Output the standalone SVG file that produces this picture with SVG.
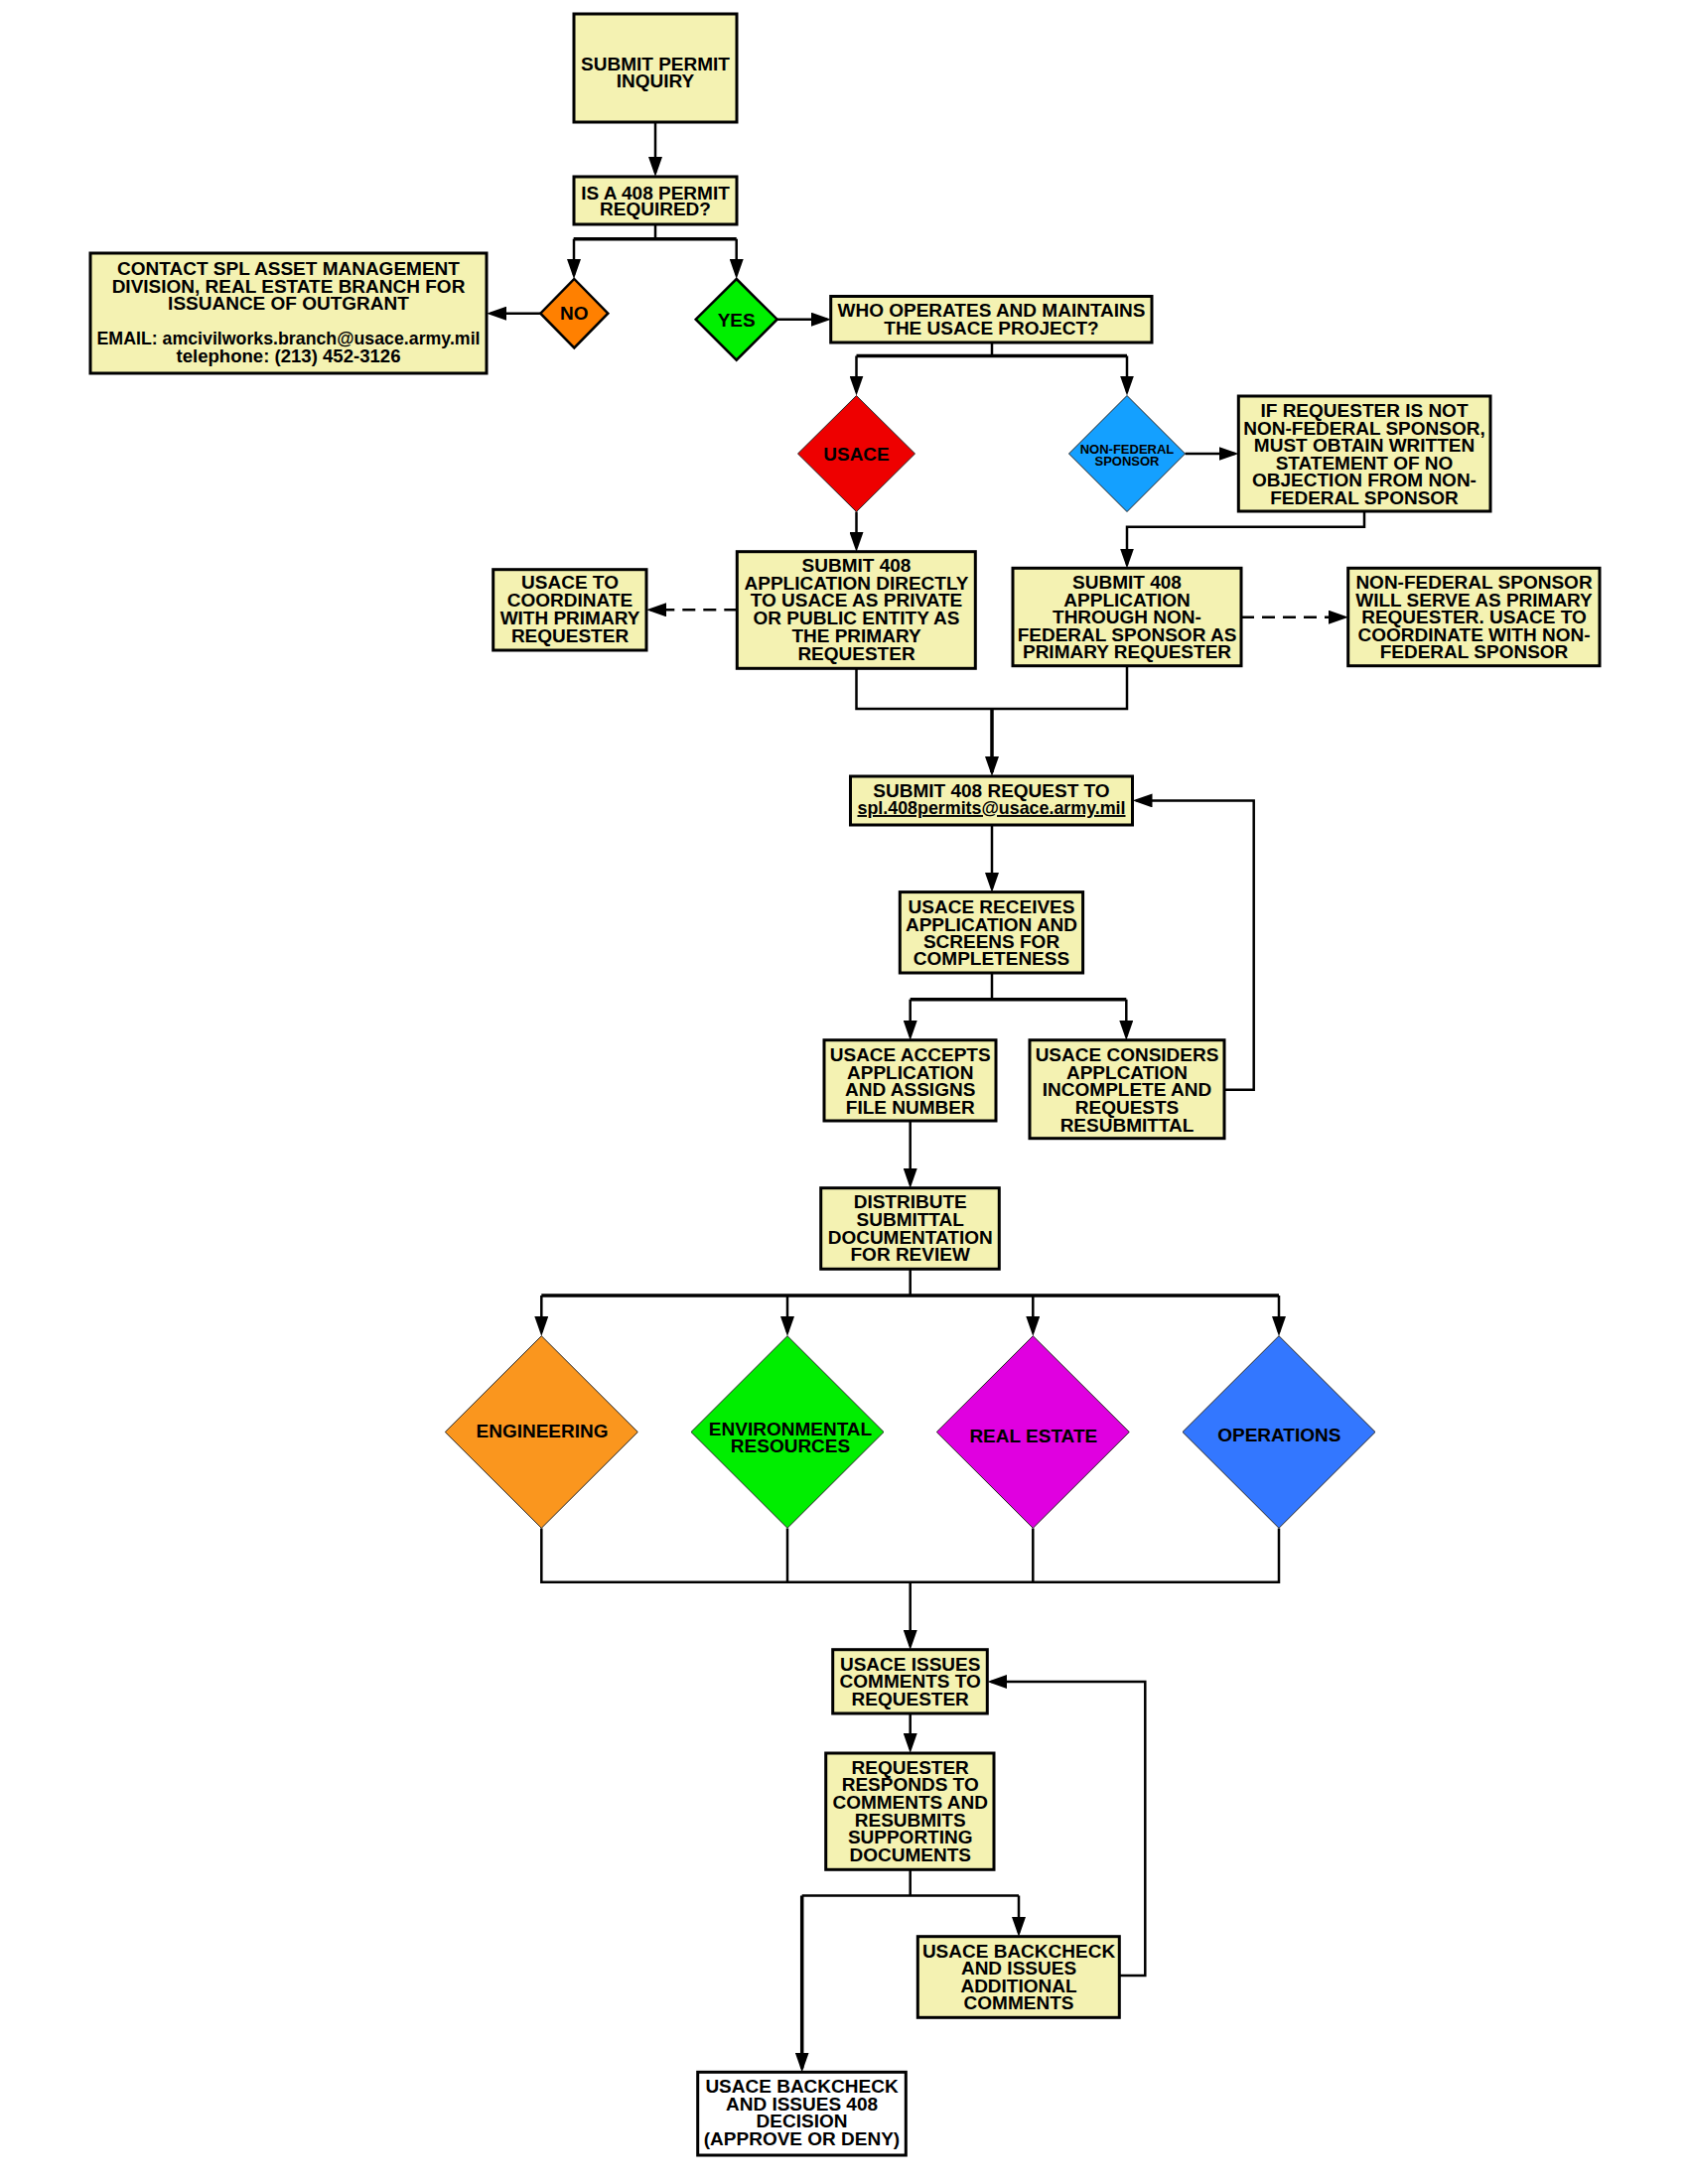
<svg xmlns="http://www.w3.org/2000/svg" width="1700" height="2200" viewBox="0 0 1700 2200">
<style>
.bg{fill:#ffffff}
.box{fill:#F4F2B2;stroke:#000;stroke-width:3}
.wbox{fill:#ffffff;stroke:#000;stroke-width:3}
.t{font-family:"Liberation Sans",Arial,Helvetica,sans-serif;font-weight:bold;font-size:19px;text-anchor:middle;fill:#000}
.ts{font-size:13px}
.c{fill:none;stroke:#000;stroke-width:2.5;marker-end:url(#ah)}
.l{fill:none;stroke:#000;stroke-width:2.5}
.k{stroke-width:3.5}
.d{stroke-dasharray:13 8}
.dm{stroke:#222;stroke-width:1}
.dk{stroke:#000;stroke-width:2.5}
</style>
<defs>
<marker id="ah" markerUnits="userSpaceOnUse" markerWidth="20" markerHeight="14" refX="16" refY="7" orient="auto">
<path d="M0,0 L20,7 L0,14 z" fill="#000"/>
</marker>
</defs>
<rect class="bg" x="0" y="0" width="1700" height="2200"/>

<g id="connectors">
<path class="c" d="M660,123 V174"/>
<path class="l" d="M660,226 V240.7"/>
<path class="l k" d="M577.7,240.7 H741.7"/>
<path class="c" d="M578,240.7 V277"/>
<path class="c" d="M741.7,240.7 V277"/>
<path class="c" d="M544.3,315.7 H494"/>
<path class="c" d="M782.7,321.7 H833"/>
<path class="l" d="M999,345 V358.5"/>
<path class="l k" d="M862.5,358.5 H1135"/>
<path class="c" d="M862.5,358.5 V394.5"/>
<path class="c" d="M1135,358.5 V394.5"/>
<path class="c" d="M1193.5,457 H1243.5"/>
<path class="c" d="M1374,515 V530.7 H1135 V568.5"/>
<path class="c" d="M862.5,515.5 V552"/>
<path class="c d" d="M742.3,614.3 H655"/>
<path class="c d" d="M1250,621.7 H1354"/>
<path class="l" d="M862.5,673.3 V714 H1135 V670.7"/>
<path class="c k" d="M999,714 V778"/>
<path class="c" d="M999,831 V895"/>
<path class="l" d="M999,980 V1006.7"/>
<path class="l k" d="M916.7,1006.7 H1134.3"/>
<path class="c" d="M916.7,1006.7 V1044"/>
<path class="c" d="M1134.3,1006.7 V1044"/>
<path class="c" d="M1233,1097.7 H1262.7 V806.4 H1144.5"/>
<path class="c" d="M916.7,1129 V1193"/>
<path class="l" d="M916.7,1278.3 V1305"/>
<path class="l k" d="M545.3,1305 H1288"/>
<path class="c" d="M545.3,1305 V1342"/>
<path class="c" d="M793,1305 V1342"/>
<path class="c" d="M1040.3,1305 V1342"/>
<path class="c" d="M1288,1305 V1342"/>
<path class="l" d="M545.3,1539.5 V1593.7 H1288 V1539.5"/>
<path class="l" d="M793,1539.5 V1593.7"/>
<path class="l" d="M1040.3,1539.5 V1593.7"/>
<path class="c" d="M916.7,1593.7 V1658"/>
<path class="c" d="M916.7,1726 V1762"/>
<path class="l" d="M916.7,1883.3 V1909.5"/>
<path class="l" d="M807.7,1909.5 H1026"/>
<path class="c" d="M1026,1909.5 V1947"/>
<path class="c k" d="M807.7,1909.5 V2083.5"/>
<path class="c" d="M1127.3,1990 H1153.3 V1694 H998.3"/>
</g>

<g id="submit-inquiry">
<rect class="box" x="578" y="14" width="164" height="109"/>
<text class="t"><tspan x="660" y="71">SUBMIT PERMIT</tspan><tspan x="660" y="88">INQUIRY</tspan></text>
</g>

<g id="permit-required">
<rect class="box" x="578" y="178" width="164" height="48"/>
<text class="t"><tspan x="660" y="200.7">IS A 408 PERMIT</tspan><tspan x="660" y="217.3">REQUIRED?</tspan></text>
</g>

<g id="no">
<polygon class="dk" fill="#FF8000" points="578.3,281 612.3,315.7 578.3,350.4 544.3,315.7"/>
<text class="t"><tspan x="578.3" y="322">NO</tspan></text>
</g>

<g id="yes">
<polygon class="dk" fill="#00F000" points="741.7,281 782.7,321.7 741.7,362.7 700.7,321.7"/>
<text class="t"><tspan x="741.7" y="329">YES</tspan></text>
</g>

<g id="contact">
<rect class="box" x="91" y="255" width="399" height="121"/>
<text class="t"><tspan x="290.5" y="277">CONTACT SPL ASSET MANAGEMENT</tspan><tspan x="290.5" y="294.5">DIVISION, REAL ESTATE BRANCH FOR</tspan><tspan x="290.5" y="312">ISSUANCE OF OUTGRANT</tspan></text>
<text class="t" x="290.5" y="347" textLength="386" lengthAdjust="spacingAndGlyphs">EMAIL: amcivilworks.branch@usace.army.mil</text>
<text class="t" x="290.5" y="365" textLength="226" lengthAdjust="spacingAndGlyphs">telephone: (213) 452-3126</text>
</g>

<g id="who-operates">
<rect class="box" x="836.7" y="298.5" width="323.3" height="46.5"/>
<text class="t"><tspan x="998.5" y="319.3">WHO OPERATES AND MAINTAINS</tspan><tspan x="998.5" y="336.7">THE USACE PROJECT?</tspan></text>
</g>

<g id="usace">
<polygon class="dm" fill="#EE0000" points="862.5,398.5 921.5,457 862.5,515.5 803.5,457"/>
<text class="t"><tspan x="862.5" y="464">USACE</tspan></text>
</g>

<g id="non-federal-sponsor">
<polygon class="dm" fill="#14A0FF" points="1135,398.5 1193.5,457 1135,515.5 1076.5,457"/>
<text class="t ts"><tspan x="1135" y="456.7">NON-FEDERAL</tspan><tspan x="1135" y="469.3">SPONSOR</tspan></text>
</g>

<g id="if-requester">
<rect class="box" x="1247.3" y="399" width="253.7" height="116"/>
<text class="t"><tspan x="1374" y="420">IF REQUESTER IS NOT</tspan><tspan x="1374" y="437.5">NON-FEDERAL SPONSOR,</tspan><tspan x="1374" y="455">MUST OBTAIN WRITTEN</tspan><tspan x="1374" y="472.5">STATEMENT OF NO</tspan><tspan x="1374" y="490">OBJECTION FROM NON-</tspan><tspan x="1374" y="507.8">FEDERAL SPONSOR</tspan></text>
</g>

<g id="submit-direct">
<rect class="box" x="742.3" y="555.7" width="240" height="117.6"/>
<text class="t"><tspan x="862.5" y="576">SUBMIT 408</tspan><tspan x="862.5" y="593.5">APPLICATION DIRECTLY</tspan><tspan x="862.5" y="611">TO USACE AS PRIVATE</tspan><tspan x="862.5" y="628.7">OR PUBLIC ENTITY AS</tspan><tspan x="862.5" y="646.5">THE PRIMARY</tspan><tspan x="862.5" y="664.5">REQUESTER</tspan></text>
</g>

<g id="usace-coordinate">
<rect class="box" x="496.7" y="573.7" width="154.3" height="81.3"/>
<text class="t"><tspan x="574" y="593.3">USACE TO</tspan><tspan x="574" y="611">COORDINATE</tspan><tspan x="574" y="629">WITH PRIMARY</tspan><tspan x="574" y="646.7">REQUESTER</tspan></text>
</g>

<g id="submit-nfs">
<rect class="box" x="1020" y="572.3" width="230" height="98.4"/>
<text class="t"><tspan x="1135" y="593.3">SUBMIT 408</tspan><tspan x="1135" y="610.8">APPLICATION</tspan><tspan x="1135" y="628.3">THROUGH NON-</tspan><tspan x="1135" y="646">FEDERAL SPONSOR AS</tspan><tspan x="1135" y="663.3">PRIMARY REQUESTER</tspan></text>
</g>

<g id="nfs-primary">
<rect class="box" x="1357.7" y="572.3" width="253.3" height="98.4"/>
<text class="t"><tspan x="1484.5" y="593.3">NON-FEDERAL SPONSOR</tspan><tspan x="1484.5" y="610.8">WILL SERVE AS PRIMARY</tspan><tspan x="1484.5" y="628.3">REQUESTER. USACE TO</tspan><tspan x="1484.5" y="646">COORDINATE WITH NON-</tspan><tspan x="1484.5" y="663.3">FEDERAL SPONSOR</tspan></text>
</g>

<g id="submit-request">
<rect class="box" x="856.5" y="782" width="284" height="49"/>
<text class="t" x="998.5" y="803">SUBMIT 408 REQUEST TO</text>
<text class="t" x="998.5" y="820" textLength="270" lengthAdjust="spacingAndGlyphs" text-decoration="underline" style="text-decoration:underline">spl.408permits@usace.army.mil</text>
</g>

<g id="usace-receives">
<rect class="box" x="906.3" y="898.6" width="184.3" height="81.4"/>
<text class="t"><tspan x="998.5" y="920">USACE RECEIVES</tspan><tspan x="998.5" y="937.5">APPLICATION AND</tspan><tspan x="998.5" y="955">SCREENS FOR</tspan><tspan x="998.5" y="972.3">COMPLETENESS</tspan></text>
</g>

<g id="usace-accepts">
<rect class="box" x="830" y="1047.7" width="173" height="81.3"/>
<text class="t"><tspan x="916.7" y="1069">USACE ACCEPTS</tspan><tspan x="916.7" y="1086.7">APPLICATION</tspan><tspan x="916.7" y="1104.3">AND ASSIGNS</tspan><tspan x="916.7" y="1122">FILE NUMBER</tspan></text>
</g>

<g id="usace-considers">
<rect class="box" x="1037" y="1047.7" width="196" height="99"/>
<text class="t"><tspan x="1135" y="1069">USACE CONSIDERS</tspan><tspan x="1135" y="1086.7">APPLCATION</tspan><tspan x="1135" y="1104.3">INCOMPLETE AND</tspan><tspan x="1135" y="1122">REQUESTS</tspan><tspan x="1135" y="1139.5">RESUBMITTAL</tspan></text>
</g>

<g id="distribute">
<rect class="box" x="826.7" y="1196.7" width="179.6" height="81.6"/>
<text class="t"><tspan x="916.7" y="1217.3">DISTRIBUTE</tspan><tspan x="916.7" y="1235">SUBMITTAL</tspan><tspan x="916.7" y="1252.7">DOCUMENTATION</tspan><tspan x="916.7" y="1270.4">FOR REVIEW</tspan></text>
</g>

<g id="engineering">
<polygon class="dm" fill="#FA961E" points="545.3,1345.7 642.3,1442.5 545.3,1539.3 448.3,1442.5"/>
<text class="t"><tspan x="546" y="1448.3">ENGINEERING</tspan></text>
</g>

<g id="environmental">
<polygon class="dm" fill="#00EE00" points="793,1345.7 890,1442.5 793,1539.3 696,1442.5"/>
<text class="t"><tspan x="796" y="1445.7">ENVIRONMENTAL</tspan><tspan x="796" y="1462.7">RESOURCES</tspan></text>
</g>

<g id="real-estate">
<polygon class="dm" fill="#E000E0" points="1040.3,1345.7 1137.3,1442.5 1040.3,1539.3 943.3,1442.5"/>
<text class="t"><tspan x="1040.8" y="1453.3">REAL ESTATE</tspan></text>
</g>

<g id="operations">
<polygon class="dm" fill="#3377FF" points="1288,1345.7 1385,1442.5 1288,1539.3 1191,1442.5"/>
<text class="t"><tspan x="1288.3" y="1451.7">OPERATIONS</tspan></text>
</g>

<g id="usace-issues">
<rect class="box" x="838.7" y="1661.7" width="155.6" height="64.3"/>
<text class="t"><tspan x="916.7" y="1682.7">USACE ISSUES</tspan><tspan x="916.7" y="1700.3">COMMENTS TO</tspan><tspan x="916.7" y="1718">REQUESTER</tspan></text>
</g>

<g id="requester-responds">
<rect class="box" x="831.7" y="1766" width="169.3" height="117.3"/>
<text class="t"><tspan x="916.7" y="1786.7">REQUESTER</tspan><tspan x="916.7" y="1804.3">RESPONDS TO</tspan><tspan x="916.7" y="1822">COMMENTS AND</tspan><tspan x="916.7" y="1839.7">RESUBMITS</tspan><tspan x="916.7" y="1857.3">SUPPORTING</tspan><tspan x="916.7" y="1875">DOCUMENTS</tspan></text>
</g>

<g id="backcheck-comments">
<rect class="box" x="924.3" y="1950.7" width="203" height="81.6"/>
<text class="t"><tspan x="1026" y="1971.7">USACE BACKCHECK</tspan><tspan x="1026" y="1989.2">AND ISSUES</tspan><tspan x="1026" y="2006.7">ADDITIONAL</tspan><tspan x="1026" y="2024">COMMENTS</tspan></text>
</g>

<g id="backcheck-decision">
<rect class="wbox" x="702.7" y="2087.3" width="209.6" height="83.7"/>
<text class="t"><tspan x="807.5" y="2108">USACE BACKCHECK</tspan><tspan x="807.5" y="2125.5">AND ISSUES 408</tspan><tspan x="807.5" y="2143">DECISION</tspan><tspan x="807.5" y="2160.5">(APPROVE OR DENY)</tspan></text>
</g>
</svg>
